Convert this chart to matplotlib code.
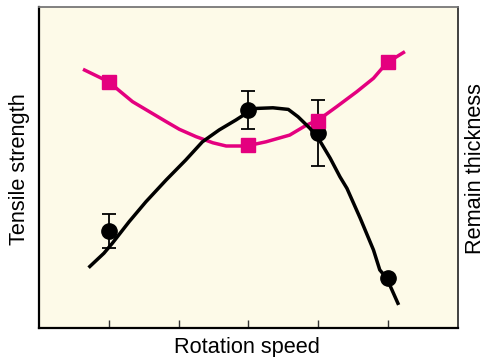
import numpy as np
import matplotlib as mpl
import matplotlib.pyplot as plt

mpl.rcParams['font.family'] = ['Liberation Sans', 'DejaVu Sans']

# measured points (x = rotation speed step, y in arbitrary 0-100 units)
strength_x = [1, 3, 4, 5]
strength_y = [30.2, 67.9, 60.7, 15.6]
strength_err = [5.3, 5.8, 10.2, 0.0]

thick_x = [1, 3, 4, 5]
thick_y = [76.7, 57.0, 64.6, 83.0]

# hand-drawn trend curves
strength_curve_x = [0.71, 0.93, 1.05, 1.29, 1.53, 1.82, 2.10, 2.34, 2.58, 2.82,
                    2.97, 3.11, 3.35, 3.57, 3.71, 3.88, 4.0, 4.17, 4.31, 4.41,
                    4.60, 4.79, 4.88, 4.98, 5.15]
strength_curve_y = [18.8, 23.3, 26.4, 33.1, 39.3, 46.1, 52.3, 58.0, 61.7, 64.8,
                    66.9, 68.4, 68.6, 68.1, 65.8, 62.2, 59.1, 52.9, 47.1, 43.5,
                    34.2, 24.3, 18.1, 15.5, 7.2]
thick_curve_x = [0.63, 1.0, 1.14, 1.34, 1.58, 1.82, 2.01, 2.25, 2.49, 2.68,
                 2.97, 3.25, 3.59, 3.83, 4.0, 4.26, 4.55, 4.79, 4.98, 5.24]
thick_curve_y = [80.6, 76.7, 74.1, 70.5, 67.4, 64.3, 61.9, 59.6, 57.7, 56.7,
                 56.7, 58.0, 60.1, 63.2, 64.8, 68.9, 73.6, 77.8, 82.6, 86.1]

xticks = [1, 2, 3, 4, 5]

PINK = '#e4007f'
BG = '#fdfae8'

fig = plt.figure(figsize=(4.85, 3.57), dpi=100)
ax = fig.add_axes([0.0804, 0.0812, 0.8639, 0.8992])
ax.set_facecolor(BG)

ax.plot(thick_curve_x, thick_curve_y, color=PINK, lw=2.5, zorder=2,
        solid_capstyle='butt', solid_joinstyle='round')
ax.plot(strength_curve_x, strength_curve_y, color='black', lw=2.5, zorder=4,
        solid_capstyle='butt', solid_joinstyle='round')

err = np.array(strength_err)
mask = err > 0
ax.errorbar(np.array(strength_x)[mask], np.array(strength_y)[mask], yerr=err[mask],
            fmt='none', ecolor='black', elinewidth=1.3, capsize=5, capthick=1.3,
            zorder=3)
ax.plot(strength_x, strength_y, 'o', color='black', ms=11, zorder=3)
ax.plot(thick_x, thick_y, 's', color=PINK, ms=10, zorder=3.5)

ax.set_xlim(0, 6)
ax.set_ylim(0, 100)
ax.set_xticks(xticks)
ax.set_xticklabels([])
ax.set_yticks([])
ax.tick_params(axis='x', direction='in', length=6, width=1, color='#333333')

ax.spines['left'].set_linewidth(1.6)
ax.spines['left'].set_color('black')
ax.spines['bottom'].set_linewidth(1.6)
ax.spines['bottom'].set_color('black')
ax.spines['top'].set_linewidth(1.3)
ax.spines['top'].set_color('#777777')
ax.spines['right'].set_linewidth(1.3)
ax.spines['right'].set_color('#333333')

fig.text(0.510, 0.012, 'Rotation speed', fontsize=15.7, ha='center', va='baseline')
fig.text(0.040, 0.527, 'Tensile strength', rotation=90, fontsize=15.7,
         ha='center', va='center')
fig.text(0.981, 0.527, 'Remain thickness', rotation=90, fontsize=15.7,
         ha='center', va='center')

fig.savefig('out.png', dpi=100)
